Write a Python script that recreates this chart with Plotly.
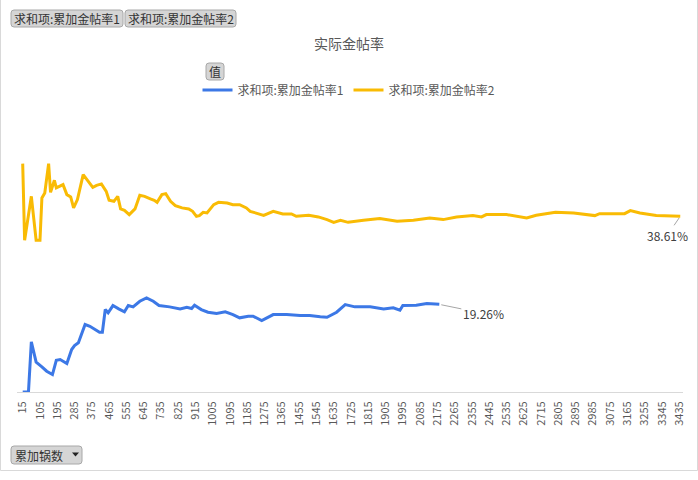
import plotly.graph_objects as go

# ---------------- data ----------------
series1_name = "求和项:累加金帖率1"
series2_name = "求和项:累加金帖率2"
chart_title = "实际金帖率"
axis_field = "累加锅数"

x1 = [15, 45, 60, 85, 115, 140, 170, 190, 210, 245,
      270, 285, 305, 340, 365, 390, 415, 430, 445, 460,
      485, 515, 545, 565, 590, 625, 660, 695, 725, 780,
      835, 870, 895, 910, 945, 980, 1025, 1070, 1110, 1145,
      1190, 1215, 1260, 1320, 1390, 1460, 1510, 1565, 1600, 1650,
      1695, 1745, 1825, 1895, 1945, 1980, 1995, 2065, 2120, 2185]
y1 = [0, 0, 11.03, 6.55, 5.53, 4.57, 3.84, 6.98, 7.14, 6.26,
      9.33, 10.21, 10.81, 14.83, 14.45, 13.73, 13.13, 13.13, 18.12, 17.40,
      19.00, 18.27, 17.61, 19.00, 18.71, 19.94, 20.69, 19.94, 19.00, 18.71,
      18.27, 18.62, 18.34, 19.06, 18.12, 17.53, 17.24, 17.61, 17.02, 16.30,
      16.65, 16.65, 15.70, 17.02, 17.02, 16.80, 16.80, 16.52, 16.43, 17.53,
      19.22, 18.71, 18.71, 18.27, 18.49, 17.97, 19.00, 19.06, 19.44, 19.26]

x2 = [15, 25, 60, 85, 105, 115, 130, 150, 160, 180,
      190, 225, 245, 265, 280, 300, 330, 350, 380, 400,
      425, 450, 465, 490, 510, 525, 545, 570, 600, 625,
      650, 680, 700, 715, 740, 760, 785, 810, 845, 880,
      900, 920, 935, 955, 975, 1010, 1035, 1080, 1110, 1145,
      1180, 1200, 1270, 1320, 1370, 1415, 1440, 1505, 1555, 1600,
      1635, 1670, 1710, 1790, 1875, 1965, 2050, 2135, 2205, 2275,
      2360, 2405, 2430, 2535, 2640, 2690, 2790, 2885, 2955, 2995,
      3020, 3150, 3180, 3230, 3315, 3405, 3440]
y2 = [50.19, 33.34, 43.00, 33.34, 33.34, 42.65, 43.75, 50.19, 43.88, 46.52,
      44.85, 45.57, 43.38, 42.87, 40.46, 42.28, 47.77, 46.67, 44.98, 45.42,
      45.73, 44.10, 42.13, 41.91, 43.00, 40.24, 39.93, 38.99, 40.24, 43.22,
      43.00, 42.43, 42.13, 41.69, 43.38, 43.60, 41.91, 40.96, 40.46, 40.24,
      39.71, 38.61, 38.77, 39.49, 39.36, 41.18, 41.69, 41.55, 41.18, 41.18,
      40.46, 39.71, 38.83, 39.71, 39.14, 39.14, 38.61, 38.83, 38.48, 37.89,
      37.29, 37.73, 37.29, 37.73, 38.11, 37.51, 37.73, 38.26, 37.89, 38.48,
      38.77, 38.48, 38.99, 38.99, 38.26, 38.83, 39.49, 39.36, 38.99, 38.77,
      39.20, 39.20, 39.86, 39.36, 38.77, 38.77, 38.61]

tick_values = list(range(15, 3436, 90))
tick_labels = [str(v) for v in tick_values]

# ---------------- styling ----------------
FONT = "Noto Sans CJK SC, Microsoft YaHei, sans-serif"
BLUE = "#3c78e6"
GOLD = "#f9bb04"
TXT = "#595959"

W, H = 698, 480
L, R, T, B = 17, 683, 119, 392
PW, PH = R - L, B - T


def X(px):
    return (px - L) / PW


def Y(py):
    return (B - py) / PH


def rrect(x0, y0, x1, y1, r=3):
    return (f"M {X(x0+r)},{Y(y0)} L {X(x1-r)},{Y(y0)} Q {X(x1)},{Y(y0)} {X(x1)},{Y(y0+r)} "
            f"L {X(x1)},{Y(y1-r)} Q {X(x1)},{Y(y1)} {X(x1-r)},{Y(y1)} "
            f"L {X(x0+r)},{Y(y1)} Q {X(x0)},{Y(y1)} {X(x0)},{Y(y1-r)} "
            f"L {X(x0)},{Y(y0+r)} Q {X(x0)},{Y(y0)} {X(x0+r)},{Y(y0)} Z")


fig = go.Figure()
fig.add_trace(go.Scatter(x=x1, y=y1, mode="lines", name=series1_name,
                         line=dict(color=BLUE, width=3)))
fig.add_trace(go.Scatter(x=x2, y=y2, mode="lines", name=series2_name,
                         line=dict(color=GOLD, width=3)))

shapes = []
# chart border
shapes.append(dict(type="rect", xref="paper", yref="paper",
                   x0=X(0.5), x1=X(697.5), y0=Y(-2), y1=Y(470.5),
                   line=dict(color="#d9d9d9", width=1), fillcolor="rgba(0,0,0,0)", layer="below"))
buttons = [
    (11, 10, 123, 27, series1_name),
    (125, 10, 236, 27, series2_name),
    (206, 63, 224, 80, "值"),
]
annotations = []
for bx0, by0, bx1, by1, txt in buttons:
    shapes.append(dict(type="path", xref="paper", yref="paper", path=rrect(bx0, by0, bx1, by1),
                       fillcolor="#d5d5d5", line=dict(color="#a8a8a8", width=1)))
    annotations.append(dict(xref="paper", yref="paper", x=X((bx0 + bx1) / 2), y=Y((by0 + by1) / 2 + 0.5),
                            text=txt, showarrow=False, xanchor="center", yanchor="middle",
                            font=dict(family=FONT, size=12, color="#333333")))
# field dropdown button
shapes.append(dict(type="path", xref="paper", yref="paper", path=rrect(11, 446, 82, 464),
                   fillcolor="#d5d5d5", line=dict(color="#a8a8a8", width=1)))
shapes.append(dict(type="path", xref="paper", yref="paper",
                   path=f"M {X(72)},{Y(452.5)} L {X(79)},{Y(452.5)} L {X(75.5)},{Y(456.5)} Z",
                   fillcolor="#222222", line=dict(width=0)))
annotations.append(dict(xref="paper", yref="paper", x=X(13), y=Y(455.5), text=axis_field,
                        showarrow=False, xanchor="left", yanchor="middle",
                        font=dict(family=FONT, size=12, color="#333333")))

# data labels
annotations.append(dict(x=x1[-1], y=y1[-1], xref="x", yref="y", text=f"{y1[-1]:.2f}%",
                        showarrow=True, arrowhead=0, arrowwidth=1, arrowcolor="#a6a6a6",
                        ax=44, ay=9, standoff=2,
                        font=dict(family=FONT, size=12, color="#404040")))
annotations.append(dict(x=x2[-1], y=y2[-1], xref="x", yref="y", text=f"{y2[-1]:.2f}%",
                        showarrow=True, arrowhead=0, arrowwidth=1, arrowcolor="#a6a6a6",
                        ax=-13, ay=19, standoff=2,
                        font=dict(family=FONT, size=12, color="#404040")))

fig.update_layout(
    width=W, height=H, autosize=False,
    margin=dict(l=L, r=W - R, t=T, b=H - B, pad=0),
    paper_bgcolor="white", plot_bgcolor="white",
    font=dict(family=FONT, color=TXT),
    title=dict(text=chart_title, x=0.5, xref="container", xanchor="center",
               y=1 - 44 / H, yref="container", yanchor="middle",
               font=dict(family=FONT, size=14, color=TXT)),
    showlegend=True,
    legend=dict(orientation="h", xref="container", yref="container",
                x=349 / W, y=1 - 90 / H, xanchor="center", yanchor="middle",
                font=dict(family=FONT, size=12, color=TXT),
                bgcolor="rgba(0,0,0,0)", itemwidth=30),
    xaxis=dict(range=[-14.7, 3454.3], tickmode="array", tickvals=tick_values, ticktext=tick_labels,
               tickangle=-90, tickfont=dict(family=FONT, size=11, color=TXT),
               showline=True, linecolor="#d9d9d9", linewidth=1, showgrid=False,
               zeroline=False, ticks="", ticklabelstandoff=4),
    yaxis=dict(range=[0, 60], visible=False, showgrid=False, zeroline=False),
    shapes=shapes, annotations=annotations,
)

fig.write_html("out.html")
